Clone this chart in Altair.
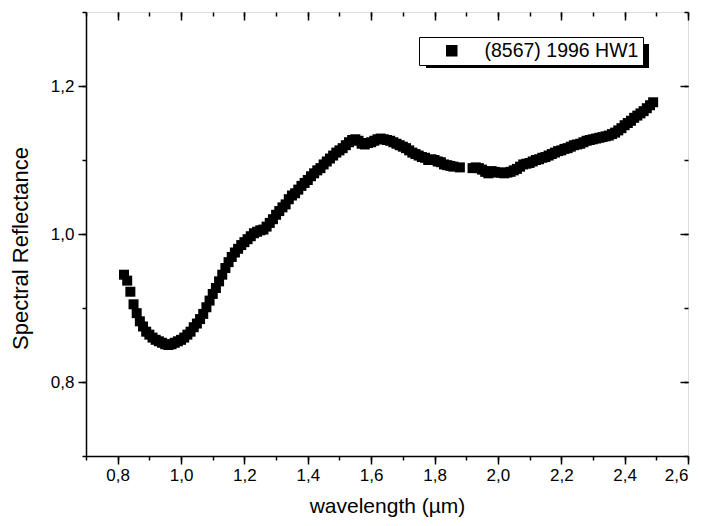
import altair as alt
import pandas as pd

wavelength = [
    0.82, 0.83, 0.84, 0.85, 0.86, 0.87, 0.88, 0.89, 0.90, 0.91,
    0.92, 0.93, 0.94, 0.95, 0.96, 0.97, 0.98, 0.99, 1.00, 1.01,
    1.02, 1.03, 1.04, 1.05, 1.06, 1.07, 1.08, 1.09, 1.10, 1.11,
    1.12, 1.13, 1.14, 1.15, 1.16, 1.17, 1.18, 1.19, 1.20, 1.21,
    1.22, 1.23, 1.24, 1.25, 1.26, 1.27, 1.28, 1.29, 1.30, 1.31,
    1.32, 1.33, 1.34, 1.35, 1.36, 1.37, 1.38, 1.39, 1.40, 1.41,
    1.42, 1.43, 1.44, 1.45, 1.46, 1.47, 1.48, 1.49, 1.50, 1.51,
    1.52, 1.53, 1.54, 1.55, 1.56, 1.57, 1.58, 1.59, 1.60, 1.61,
    1.62, 1.63, 1.64, 1.65, 1.66, 1.67, 1.68, 1.69, 1.70, 1.71,
    1.72, 1.73, 1.74, 1.75, 1.76, 1.77, 1.78, 1.79, 1.80, 1.81,
    1.82, 1.83, 1.84, 1.85, 1.86, 1.88,
    1.92, 1.93, 1.94, 1.95, 1.96, 1.97, 1.98, 1.99, 2.00, 2.01,
    2.02, 2.03, 2.04, 2.05, 2.06, 2.07, 2.08, 2.09, 2.10, 2.11,
    2.12, 2.13, 2.14, 2.15, 2.16, 2.17, 2.18, 2.19, 2.20, 2.21,
    2.22, 2.23, 2.24, 2.25, 2.26, 2.27, 2.28, 2.29, 2.30, 2.31,
    2.32, 2.33, 2.34, 2.35, 2.36, 2.37, 2.38, 2.39, 2.40, 2.41,
    2.42, 2.43, 2.44, 2.45, 2.46, 2.47, 2.48, 2.49,
]

reflectance = [
    0.945, 0.937, 0.922, 0.905, 0.893, 0.882, 0.875, 0.868, 0.864, 0.860,
    0.857, 0.855, 0.853, 0.851, 0.850, 0.851, 0.853, 0.855, 0.857, 0.860,
    0.864, 0.868, 0.874, 0.879, 0.885, 0.892, 0.901, 0.910, 0.919, 0.927,
    0.936, 0.945, 0.954, 0.962, 0.969, 0.975, 0.980, 0.985, 0.989, 0.993,
    0.997, 1.001, 1.003, 1.005, 1.006, 1.010, 1.015, 1.020, 1.026, 1.031,
    1.036, 1.040, 1.047, 1.052, 1.055, 1.060, 1.065, 1.069, 1.073, 1.078,
    1.082, 1.086, 1.089, 1.094, 1.098, 1.102, 1.106, 1.110, 1.113, 1.116,
    1.120, 1.124, 1.127, 1.128, 1.126, 1.122, 1.121, 1.123, 1.124, 1.126,
    1.128, 1.129, 1.128, 1.127, 1.126, 1.124, 1.122, 1.120, 1.118, 1.116,
    1.113, 1.110, 1.108, 1.106, 1.104, 1.103, 1.100, 1.101, 1.100, 1.098,
    1.097, 1.094, 1.093, 1.092, 1.091, 1.090,
    1.089, 1.090, 1.089, 1.087, 1.084, 1.082, 1.085, 1.084, 1.083, 1.083,
    1.082, 1.083, 1.084, 1.086, 1.088, 1.091, 1.094, 1.095, 1.096, 1.098,
    1.100, 1.101, 1.103, 1.104, 1.106, 1.108, 1.110, 1.112, 1.113, 1.115,
    1.116, 1.118, 1.120, 1.121, 1.122, 1.124, 1.126, 1.127, 1.128, 1.129,
    1.130, 1.131, 1.132, 1.133, 1.135, 1.137, 1.140, 1.143, 1.147, 1.150,
    1.153, 1.157, 1.160, 1.163, 1.166, 1.170, 1.174, 1.178,
]

series_name = "(8567) 1996 HW1"

x_major = [0.8, 1.0, 1.2, 1.4, 1.6, 1.8, 2.0, 2.2, 2.4, 2.6]
x_minor = [0.7, 0.8, 0.9, 1.0, 1.1, 1.2, 1.3, 1.4, 1.5, 1.6, 1.7, 1.8,
           1.9, 2.0, 2.1, 2.2, 2.3, 2.4, 2.5, 2.6]
y_major = [0.8, 1.0, 1.2]
y_minor = [0.7, 0.8, 0.9, 1.0, 1.1, 1.2, 1.3]

df = pd.DataFrame({"wl": wavelength, "refl": reflectance})
df["name"] = series_name

FONT = "Liberation Sans"
LBL = "replace(format(datum.value, '.1f'), '.', ',')"

xs = alt.Scale(domain=[0.7, 2.6], nice=False, zero=False)
ys = alt.Scale(domain=[0.7, 1.3], nice=False, zero=False)

base = alt.Chart(df)

points = base.mark_square(size=100, opacity=1, filled=True).encode(
    x=alt.X("wl:Q", scale=xs, axis=alt.Axis(
        orient="bottom", values=x_major, labelExpr=LBL, tickSize=8, tickWidth=1.5,
        domainWidth=1.5, domainColor="black", tickColor="black", grid=False,
        labelFont=FONT, labelFontSize=17, labelColor="black", labelPadding=3,
        title="wavelength (µm)", titleFont=FONT, titleFontSize=21,
        titleFontWeight="normal", titleColor="black", titlePadding=12)),
    y=alt.Y("refl:Q", scale=ys, axis=alt.Axis(
        orient="left", values=y_major, labelExpr=LBL, tickSize=8, tickWidth=1.5,
        domainWidth=1.5, domainColor="black", tickColor="black", grid=False,
        labelFont=FONT, labelFontSize=17, labelColor="black", labelPadding=4,
        title="Spectral Reflectance", titleFont=FONT, titleFontSize=22,
        titleFontWeight="normal", titleColor="black", titlePadding=18,
        titleY=236)),
    color=alt.Color("name:N", scale=alt.Scale(range=["black"]), legend=alt.Legend(
        title=None, orient="none", legendX=333, legendY=25, symbolType="square",
        symbolSize=100, symbolFillColor="black", symbolStrokeColor="black",
        symbolOffset=19, labelOffset=23, labelFont=FONT, labelFontSize=19.5,
        labelColor="black", padding=4, strokeColor="black", fillColor="white",
        cornerRadius=0)),
)

def tick_layer(xaxis, yaxis):
    return base.mark_point(opacity=0).encode(
        x=alt.X("wl:Q", scale=xs, axis=xaxis),
        y=alt.Y("refl:Q", scale=ys, axis=yaxis),
    )

minor_bl = tick_layer(
    alt.Axis(orient="bottom", values=x_minor, labels=False, domain=False, grid=False,
             tickSize=4, tickWidth=1.5, tickColor="black", title=None),
    alt.Axis(orient="left", values=y_minor, labels=False, domain=False, grid=False,
             tickSize=4, tickWidth=1.5, tickColor="black", title=None),
)
major_tr = tick_layer(
    alt.Axis(orient="top", values=x_major, labels=False, domain=False, grid=False,
             tickSize=8, tickWidth=1.5, tickColor="black", title=None, offset=-8),
    alt.Axis(orient="right", values=y_major, labels=False, domain=False, grid=False,
             tickSize=8, tickWidth=1.5, tickColor="black", title=None, offset=-8),
)
minor_tr = tick_layer(
    alt.Axis(orient="top", values=x_minor, labels=False, domain=False, grid=False,
             tickSize=4, tickWidth=1.5, tickColor="black", title=None, offset=-4),
    alt.Axis(orient="right", values=y_minor, labels=False, domain=False, grid=False,
             tickSize=4, tickWidth=1.5, tickColor="black", title=None, offset=-4),
)

shadow = base.mark_rect(color="black").encode(
    x=alt.value(340), x2=alt.value(563), y=alt.value(32), y2=alt.value(56),
)

chart = alt.layer(minor_bl, major_tr, minor_tr, shadow, points).resolve_axis(
    x="independent", y="independent"
).properties(
    width=602, height=444,
    autosize=alt.AutoSizeParams(type="none"),
    padding={"left": 78, "top": 4, "right": 6, "bottom": 62},
).configure_view(stroke="black", strokeWidth=1.5).configure(background="white")

chart.save("out.html", embed_options={"renderer": "svg", "actions": False})
